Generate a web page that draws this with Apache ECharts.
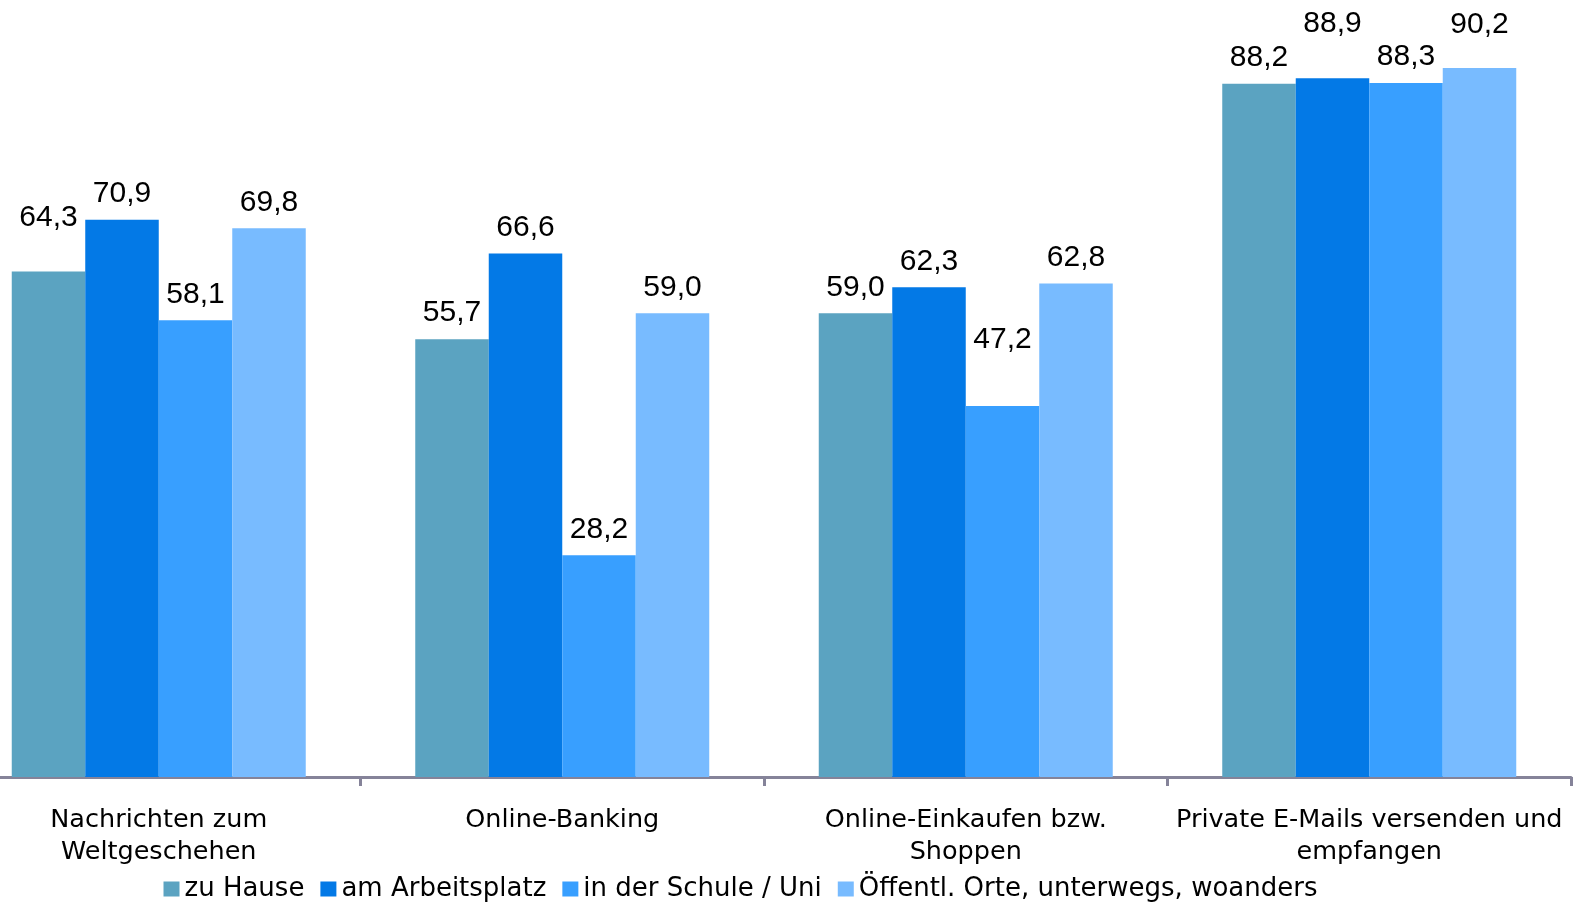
<!DOCTYPE html>
<html>
<head>
<meta charset="utf-8">
<script src="https://cdn.jsdelivr.net/npm/echarts@6/dist/echarts.min.js"></script>
<style>html,body{margin:0;padding:0;background:#fff;overflow:hidden;}
#wrap{position:relative;width:1573px;height:902px;overflow:hidden;}
#c{position:absolute;left:-43.5px;top:-9px;width:1616.6px;height:911px;}</style>
</head>
<body>
<div id="wrap"><div id="c"></div></div>
<script>
var categories = ["Nachrichten zum\nWeltgeschehen", "Online-Banking", "Online-Einkaufen bzw.\nShoppen", "Private E-Mails versenden und\nempfangen"];
var seriesNames = ["zu Hause", "am Arbeitsplatz", "in der Schule / Uni", "Öffentl. Orte, unterwegs, woanders"];
var zuHause = [64.3, 55.7, 59.0, 88.2];
var amArbeitsplatz = [70.9, 66.6, 62.3, 88.9];
var schuleUni = [58.1, 28.2, 47.2, 88.3];
var oeffentlich = [69.8, 59.0, 62.8, 90.2];

// style: extra lift of individual value labels (px), as placed in the original
var labelLift = [
  [28, 0, 0, 0],
  [0, 0, 0, 29],
  [0, 0, 40, 0],
  [0, 0, 0, 17]
];
var colors = ["#5BA3C1", "#0379E6", "#389FFF", "#78BBFF"];
var allValues = [zuHause, amArbeitsplatz, schuleUni, oeffentlich];
var baseDist = 11;

var series = allValues.map(function (vals, si) {
  return {
    name: seriesNames[si],
    type: 'bar',
    barWidth: 73.5,
    barGap: '0%',
    itemStyle: { color: colors[si] },
    label: {
      show: true,
      position: 'top',
      distance: baseDist,
      fontFamily: 'Liberation Sans, Arial, sans-serif',
      fontSize: 30,
      color: '#000',
      formatter: function (p) { return p.value.toFixed(1).replace('.', ','); }
    },
    data: vals.map(function (v, ci) {
      return { value: v, label: { distance: baseDist + labelLift[si][ci] } };
    })
  };
});

var chart = echarts.init(document.getElementById('c'), null, { renderer: 'canvas' });
chart.setOption({
  animation: false,
  backgroundColor: '#fff',
  grid: { left: 0, right: 3, top: 0, bottom: 125, containLabel: false },
  legend: {
    left: 201.5,
    top: 880,
    itemWidth: 16,
    itemHeight: 15,
    itemGap: 16,
    icon: 'rect',
    textStyle: { fontFamily: 'DejaVu Sans', fontSize: 26, color: '#000' },
    data: seriesNames
  },
  xAxis: {
    type: 'category',
    data: categories,
    axisLine: { lineStyle: { color: '#858399', width: 3 } },
    axisTick: { show: true, length: 9, lineStyle: { color: '#858399', width: 3 } },
    axisLabel: {
      interval: 0,
      margin: 27,
      fontFamily: 'DejaVu Sans',
      fontSize: 25.5,
      lineHeight: 32,
      color: '#000'
    }
  },
  yAxis: {
    type: 'value',
    min: 0,
    max: 100,
    show: false,
    splitLine: { show: false }
  },
  series: series
});
</script>
</body>
</html>
